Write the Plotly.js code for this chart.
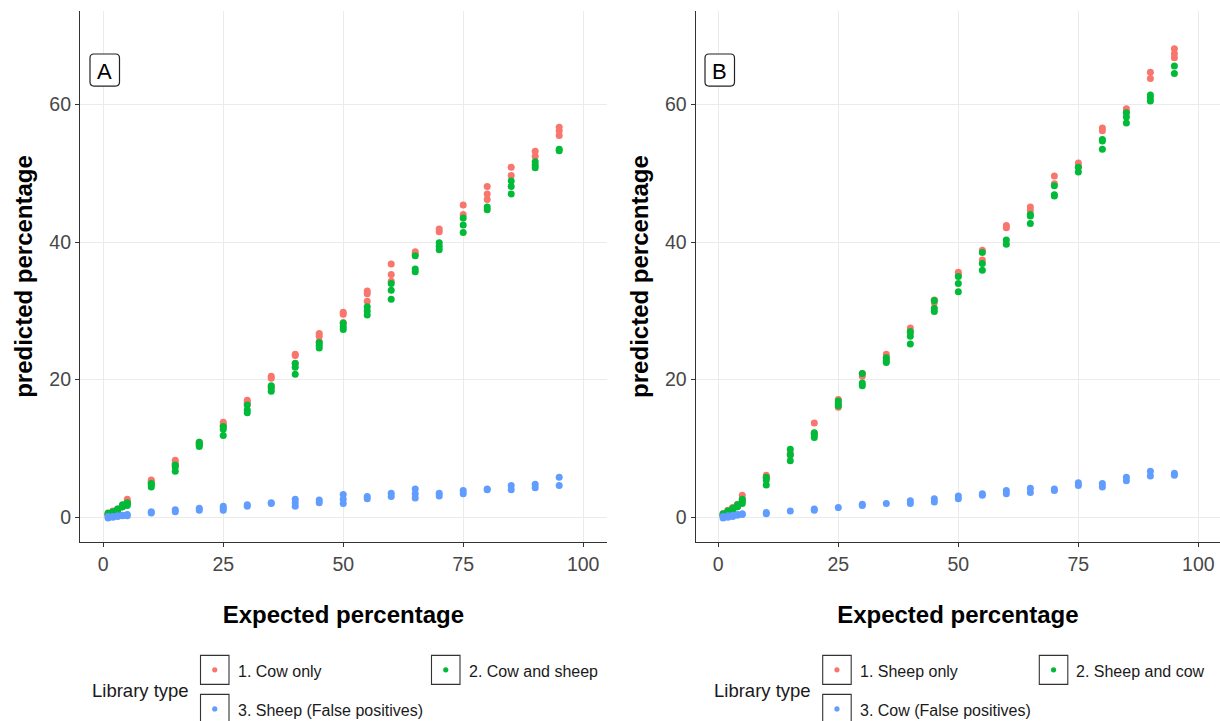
<!DOCTYPE html>
<html>
<head>
<meta charset="utf-8">
<script src="https://cdn.plot.ly/plotly-3.0.1.min.js"></script>
<style>html,body{margin:0;padding:0;background:#fff;}#chart{width:1220px;height:721px;}</style>
</head>
<body>
<div id="chart"></div>
<script>
// ---------- DATA ----------
const expected = [1,2,3,4,5,10,15,20,25,30,35,40,45,50,55,60,65,70,75,80,85,90,95];

// Panel A
const aCowOnly = [[0.5,0.4,0.3],[0.9,0.8,0.7],[1.2,1.1,1.0],[1.7,1.6,1.5],[2.6,2.3,2.1],[5.4,5.2,5.0],[8.3,7.9,7.6],[10.9,10.7,10.5],[13.8,13.5,13.2],[17.0,16.8,16.5],[20.5,20.2,19.0],[23.7,23.5,22.3],[26.7,26.3,25.5],[29.8,29.5,28.3],[32.9,32.5,31.4],[36.8,35.3,34.3],[38.6,38.3],[41.9,41.5],[45.4,44.0],[48.1,47.0,46.2],[50.9,49.7],[53.2,52.5],[56.7,56.2,55.5]];
const aCowSheep = [[0.6,0.4],[0.8,0.6],[1.2,1.0],[1.8,1.5],[2.1,1.9,1.7],[4.9,4.7,4.4],[7.6,7.3,6.7],[10.9,10.6,10.3],[13.2,12.8,11.9],[16.3,15.6,15.2],[19.1,18.7,18.3],[22.4,21.8,20.8],[25.4,25.0,24.6],[28.2,27.7,27.3],[30.6,30.0,29.4],[34.0,33.0,31.7],[38.0,36.1,35.7],[39.9,39.4,38.9],[43.5,42.5,41.4],[45.1,44.7],[48.9,48.1,47.0],[51.7,51.2,50.8],[53.5,53.3]];
const aSheepFP = [[0.1,-0.1],[0.1,0.0],[0.2,0.1],[0.3,0.2],[0.4,0.2],[0.8,0.6],[1.1,0.8],[1.3,1.0],[1.6,1.3,1.0],[1.8,1.6],[2.1,2.0],[2.6,2.1,1.6],[2.5,2.1],[3.3,2.6,2.0],[3.0,2.7],[3.5,3.0],[4.1,3.4,2.8],[3.5,3.1],[3.9,3.4],[4.1,4.0],[4.6,4.0],[4.8,4.3],[5.8,4.6]];

// Panel B
const bSheepOnly = [[0.5,0.3],[1.0,0.7],[1.4,1.1],[1.9,1.6],[3.2,2.7],[6.1,5.7],[9.3,9.0],[13.7,12.2],[17.1,16.0],[20.9,20.5],[23.7,23.2],[27.5,26.8],[31.6,31.2],[35.6,35.2],[38.8,37.4],[42.4,42.1],[45.1,44.6],[49.6,48.5],[51.5,51.0],[56.6,56.2],[59.4,58.9],[64.7,63.8],[68.1,67.4,66.8]];
const bSheepCow = [[0.5,0.3],[0.9,0.6],[1.3,1.0],[1.8,1.5],[2.6,2.3,2.0],[5.8,5.4,4.7],[9.9,9.1,8.2],[12.3,12.0,11.6],[16.9,16.5,16.2],[20.9,19.5,19.1],[23.2,22.8,22.5],[27.0,26.3,25.2],[31.5,30.4,29.9],[35.0,34.0,32.8],[38.5,36.9,35.9],[40.3,39.7],[44.0,43.8,42.7],[48.2,46.9,46.7],[50.9,50.2],[54.9,54.7,53.5],[58.8,58.2,57.3],[61.4,61.0,60.5],[65.6,64.5]];
const bCowFP = [[0.1,-0.1],[0.2,0.0],[0.3,0.1],[0.4,0.3],[0.5,0.4],[0.7,0.5],[0.9],[1.2,1.0],[1.4],[1.9,1.7],[2.0],[2.4,2.0],[2.7,2.2],[3.1,2.7],[3.4,3.2],[3.9,3.4],[4.2,3.6],[4.1,3.9],[5.0,4.6],[4.9,4.4],[5.8,5.3],[6.7,6.0],[6.4,6.1]];

const legendA = ["1. Cow only", "2. Cow and sheep", "3. Sheep (False positives)"];
const legendB = ["1. Sheep only", "2. Sheep and cow", "3. Cow (False positives)"];
const legendTitle = "Library type";
const panelLabels = ["A", "B"];
const xTicks = [0,25,50,75,100];
const yTicks = [0,20,40,60];
const xTitle = "Expected percentage";
const yTitle = "predicted percentage";

// ---------- STYLE ----------
const colors = ["#F8766D", "#00BA38", "#619CFF"];
const FONT = "Liberation Sans, Arial, Helvetica, sans-serif";

function flatten(groups) {
  const xs = [], ys = [];
  groups.forEach((g, i) => g.forEach(v => { xs.push(expected[i]); ys.push(v); }));
  return {x: xs, y: ys};
}
function mk(groups, color, name, xa, ya) {
  const d = flatten(groups);
  return {type: "scatter", mode: "markers", x: d.x, y: d.y, name: name,
    xaxis: xa, yaxis: ya, showlegend: false,
    marker: {color: color, size: 7, line: {width: 0}}, hoverinfo: "x+y+name"};
}

const traces = [
  mk(aCowOnly, colors[0], legendA[0], "x", "y"),
  mk(aCowSheep, colors[1], legendA[1], "x", "y"),
  mk(aSheepFP, colors[2], legendA[2], "x", "y"),
  mk(bSheepOnly, colors[0], legendB[0], "x2", "y2"),
  mk(bSheepCow, colors[1], legendB[1], "x2", "y2"),
  mk(bCowFP, colors[2], legendB[2], "x2", "y2")
];

// margins / pixel helpers (for legend & panel-label decorations)
const W = 1220, H = 721;
const M = {l: 80, r: 0, t: 11, b: 179.3};
const PW = W - M.l - M.r, PH = H - M.t - M.b;
const px = v => (v - M.l) / PW;
const py = v => (H - M.b - v) / PH;

function axisX(domain, range) {
  return {domain: domain, range: range, tickvals: xTicks, ticktext: xTicks.map(String),
    showgrid: true, gridcolor: "#ebebeb", gridwidth: 1, zeroline: false,
    showline: true, linecolor: "#333333", linewidth: 1.1, mirror: false,
    ticks: "outside", ticklen: 4, tickwidth: 1.1, tickcolor: "#333333",
    tickfont: {family: FONT, size: 19.5, color: "#474747"},
    title: {text: xTitle, standoff: 32, font: {family: FONT, size: 24, color: "#000", weight: "bold"}},
    fixedrange: true};
}
function axisY(anchor) {
  return {anchor: anchor, range: [-3.6, 73.6], tickvals: yTicks, ticktext: yTicks.map(String),
    showgrid: true, gridcolor: "#ebebeb", gridwidth: 1, zeroline: false,
    showline: true, linecolor: "#333333", linewidth: 1.1, mirror: false,
    ticks: "outside", ticklen: 4, tickwidth: 1.1, tickcolor: "#333333",
    tickfont: {family: FONT, size: 19.5, color: "#474747"},
    title: {text: yTitle, standoff: 9, font: {family: FONT, size: 24, color: "#000", weight: "bold"}},
    fixedrange: true};
}

const shapes = [], annotations = [];

// panel labels (rounded boxes)
function roundRect(x0, y0, x1, y1, r) {
  const X = v => px(v), Y = v => py(v);
  return `M ${X(x0 + r)} ${Y(y0)} L ${X(x1 - r)} ${Y(y0)} Q ${X(x1)} ${Y(y0)} ${X(x1)} ${Y(y0 + r)} ` +
         `L ${X(x1)} ${Y(y1 - r)} Q ${X(x1)} ${Y(y1)} ${X(x1 - r)} ${Y(y1)} L ${X(x0 + r)} ${Y(y1)} ` +
         `Q ${X(x0)} ${Y(y1)} ${X(x0)} ${Y(y1 - r)} L ${X(x0)} ${Y(y0 + r)} Q ${X(x0)} ${Y(y0)} ${X(x0 + r)} ${Y(y0)} Z`;
}
[[90, 54, 119.5, 86], [705, 54, 734.5, 86]].forEach((b, i) => {
  shapes.push({type: "path", xref: "paper", yref: "paper", path: roundRect(b[0], b[1], b[2], b[3], 4),
    line: {color: "#222", width: 1.2}, fillcolor: "#fff", layer: "above"});
  annotations.push({xref: "paper", yref: "paper", x: px((b[0] + b[2]) / 2), y: py((b[1] + b[3]) / 2 + 1),
    text: panelLabels[i], showarrow: false, xanchor: "center", yanchor: "middle",
    font: {family: FONT, size: 22, color: "#000"}});
});

// legends
function legend(titleX, boxes, labels) {
  annotations.push({xref: "paper", yref: "paper", x: px(titleX), y: py(690),
    text: legendTitle, showarrow: false, xanchor: "left", yanchor: "middle",
    font: {family: FONT, size: 18.5, color: "#1a1a1a"}});
  boxes.forEach((b, i) => {
    const [x0, y0] = b;
    shapes.push({type: "rect", xref: "paper", yref: "paper", x0: px(x0), x1: px(x0 + 28.5), y0: py(y0), y1: py(y0 + 29),
      line: {color: "#333", width: 1.1}, fillcolor: "#fff"});
    const cx = x0 + 14.25, cy = y0 + 14.5, r = 2.6;
    shapes.push({type: "circle", xref: "paper", yref: "paper", x0: px(cx - r), x1: px(cx + r), y0: py(cy - r), y1: py(cy + r),
      line: {width: 0}, fillcolor: colors[i]});
    annotations.push({xref: "paper", yref: "paper", x: px(x0 + 35), y: py(cy + 1.5),
      text: labels[i], showarrow: false, xanchor: "left", yanchor: "middle",
      font: {family: FONT, size: 16, color: "#1a1a1a"}});
  });
}
legend(89.5, [[200.5, 655], [431.5, 655], [200.5, 694]], legendA);
legend(712, [[822.7, 655], [1039.3, 655], [822.7, 694]], legendB);

const layout = {
  width: W, height: H,
  margin: M,
  paper_bgcolor: "#fff", plot_bgcolor: "#fff",
  font: {family: FONT},
  showlegend: false,
  xaxis: axisX([0, px(606.7)], [-4.85, 104.9]),
  yaxis: axisY("x"),
  xaxis2: axisX([px(695.7), 1], [-4.7, 104.5]),
  yaxis2: axisY("x2"),
  shapes: shapes,
  annotations: annotations
};
layout.xaxis2.anchor = "y2";
layout.xaxis.anchor = "y";

Plotly.newPlot("chart", traces, layout, {displayModeBar: false, staticPlot: true});
</script>
</body>
</html>
